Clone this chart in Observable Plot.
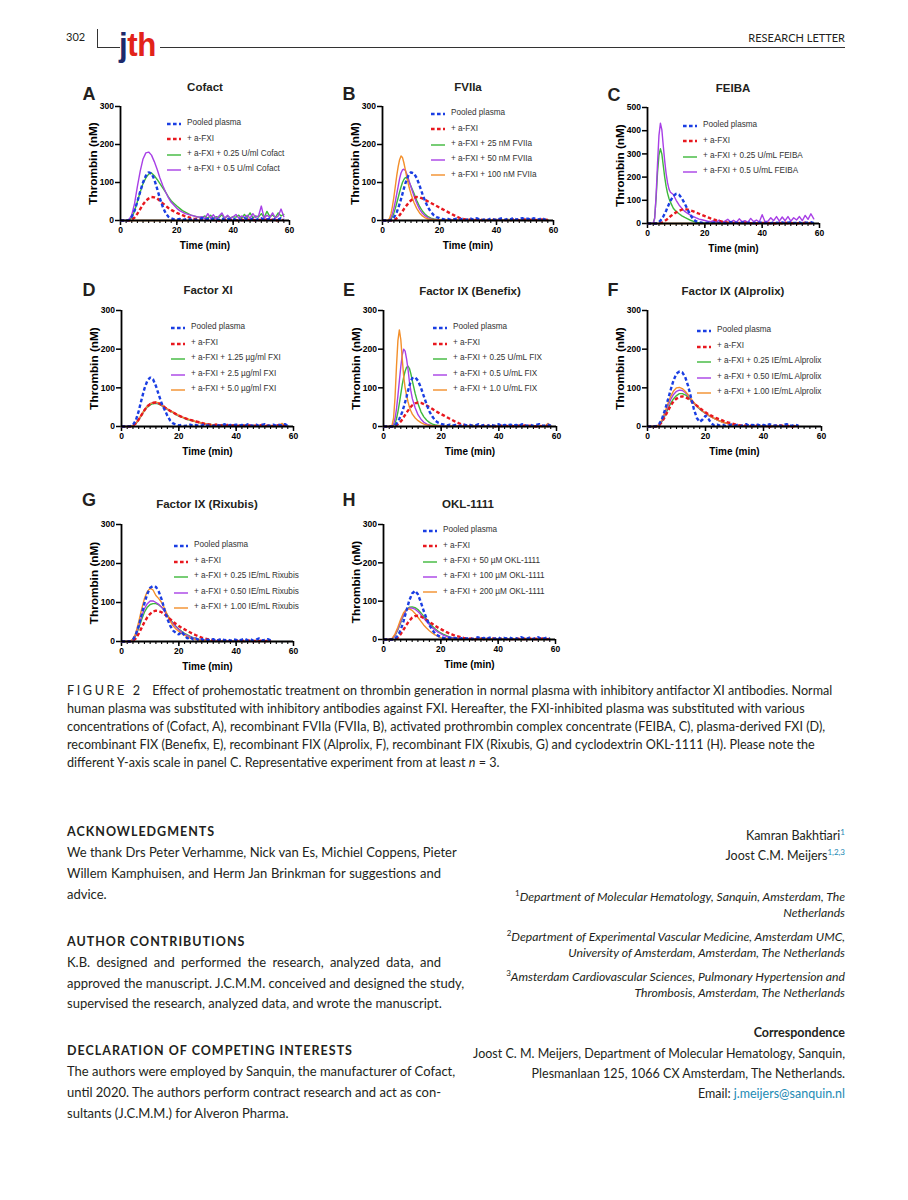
<!DOCTYPE html>
<html><head><meta charset="utf-8">
<script src="https://cdn.jsdelivr.net/npm/d3@7"></script>
<script src="https://cdn.jsdelivr.net/npm/@observablehq/plot@0.6"></script>
<style>
body{margin:0;background:#fff;}
#page{position:relative;width:908px;height:1200px;overflow:hidden;background:#fff;font-family:Lato,"Noto Sans",sans-serif;color:#231f20;}
.t{position:absolute;white-space:nowrap;line-height:20px;}
.cap{font-size:12.6px;}
.body{font-size:13px;width:374px;left:67px;}
.j{text-align:justify;text-align-last:justify;}
.h{font-weight:bold;font-size:12.5px;letter-spacing:1.0px;left:67px;}
.r{right:63px;text-align:right;font-size:12.5px;}
.i{font-style:italic;font-size:12.2px;}
.sup{color:#1d8ab4;font-size:8px;vertical-align:5px;}
.ch{position:absolute;white-space:nowrap;font-family:"Liberation Sans",Arial,sans-serif;line-height:1;}
</style></head><body><div id="page">
<div class="t" style="left:66px;top:27px;font-size:11px;">302</div>
<div style="position:absolute;left:97px;top:29px;width:1px;height:18px;background:#333;"></div>
<div style="position:absolute;left:97px;top:47px;width:23px;height:1px;background:#333;"></div>
<div style="position:absolute;left:160px;top:47px;width:685px;height:1px;background:#333;"></div>
<div class="ch" style="left:119px;top:27px;font-size:34px;font-weight:bold;letter-spacing:-0.5px;transform:scaleX(0.92);transform-origin:left top;"><span style="color:#1d2a6b">j</span><span style="color:#e2231a">th</span></div>
<div class="t" style="right:63px;top:28px;font-size:11px;">RESEARCH LETTER</div>

<div class="t cap" style="left:67px;top:681px;"><span style="letter-spacing:2.6px;">FIGURE 2</span>&nbsp;&nbsp; Effect of prohemostatic treatment on thrombin generation in normal plasma with inhibitory antifactor XI antibodies. Normal</div>
<div class="t cap" style="left:67px;top:699px;">human plasma was substituted with inhibitory antibodies against FXI. Hereafter, the FXI-inhibited plasma was substituted with various</div>
<div class="t cap" style="left:67px;top:717px;">concentrations of (Cofact, A), recombinant FVIIa (FVIIa, B), activated prothrombin complex concentrate (FEIBA, C), plasma-derived FXI (D),</div>
<div class="t cap" style="left:67px;top:735px;">recombinant FIX (Benefix, E), recombinant FIX (Alprolix, F), recombinant FIX (Rixubis, G) and cyclodextrin OKL-1111 (H). Please note the</div>
<div class="t cap" style="left:67px;top:753px;">different Y-axis scale in panel C. Representative experiment from at least <i>n</i> = 3.</div>

<div class="t h" style="top:822px;">ACKNOWLEDGMENTS</div>
<div class="t body j" style="top:842px;">We thank Drs Peter Verhamme, Nick van Es, Michiel Coppens, Pieter</div>
<div class="t body j" style="top:863px;">Willem Kamphuisen, and Herm Jan Brinkman for suggestions and</div>
<div class="t body" style="top:884px;">advice.</div>
<div class="t h" style="top:932px;">AUTHOR CONTRIBUTIONS</div>
<div class="t body j" style="top:952px;">K.B. designed and performed the research, analyzed data, and</div>
<div class="t body j" style="top:973px;">approved the manuscript. J.C.M.M. conceived and designed the study,</div>
<div class="t body" style="top:993px;">supervised the research, analyzed data, and wrote the manuscript.</div>
<div class="t h" style="top:1041px;">DECLARATION OF COMPETING INTERESTS</div>
<div class="t body j" style="top:1061px;">The authors were employed by Sanquin, the manufacturer of Cofact,</div>
<div class="t body j" style="top:1082px;">until 2020. The authors perform contract research and act as con-</div>
<div class="t body" style="top:1103px;">sultants (J.C.M.M.) for Alveron Pharma.</div>

<div class="t r" style="top:822px;">Kamran Bakhtiari<span class="sup">1</span></div>
<div class="t r" style="top:842px;">Joost C.M. Meijers<span class="sup">1,2,3</span></div>
<div class="t r i" style="top:883px;"><span class="sup" style="color:#231f20;font-style:normal">1</span>Department of Molecular Hematology, Sanquin, Amsterdam, The</div>
<div class="t r i" style="top:903px;">Netherlands</div>
<div class="t r i" style="top:923px;"><span class="sup" style="color:#231f20;font-style:normal">2</span>Department of Experimental Vascular Medicine, Amsterdam UMC,</div>
<div class="t r i" style="top:943px;">University of Amsterdam, Amsterdam, The Netherlands</div>
<div class="t r i" style="top:963px;"><span class="sup" style="color:#231f20;font-style:normal">3</span>Amsterdam Cardiovascular Sciences, Pulmonary Hypertension and</div>
<div class="t r i" style="top:983px;">Thrombosis, Amsterdam, The Netherlands</div>
<div class="t r" style="top:1023px;font-weight:bold;">Correspondence</div>
<div class="t r" style="top:1044px;">Joost C. M. Meijers, Department of Molecular Hematology, Sanquin,</div>
<div class="t r" style="top:1064px;">Plesmanlaan 125, 1066 CX Amsterdam, The Netherlands.</div>
<div class="t r" style="top:1084px;">Email: <span style="color:#1d8ab4">j.meijers@sanquin.nl</span></div>
</div>
<script>
// ---------------- DATA ----------------
const xTicks = [0, 20, 40, 60];
const yTicks300 = [0, 100, 200, 300];
const yTicks500 = [0, 100, 200, 300, 400, 500];

const time0to58 = [0,1,2,3,4,5,6,7,8,9,10,11,12,13,14,15,16,17,18,19,20,21,22,23,24,25,26,27,28,29,30,31,32,33,34,35,36,37,38,39,40,41,42,43,44,45,46,47,48,49,50,51,52,53,54,55,56,57,58];
const time0to52 = [0,1,2,3,4,5,6,7,8,9,10,11,12,13,14,15,16,17,18,19,20,21,22,23,24,25,26,27,28,29,30,31,32,33,34,35,36,37,38,39,40,41,42,43,44,45,46,47,48,49,50,51,52];
const timeHalfTo10 = [0,1,2,2.5,3,3.5,4,4.5,5,5.5,6,6.5,7,7.5,8,8.5,9,9.5,10,11,12,13,14,15,16,17,18,19,20,21,22,23,24,25,26,27,28,29,30,31,32,33,34,35,36,37,38,39,40,41,42,43,44,45,46,47,48,49,50,51,52,53,54,55,56,57,58];
const timeHalfTo8 = [0,1,2,2.5,3,3.5,4,4.5,5,5.5,6,6.5,7,7.5,8,9,10,11,12,13,14,15,16,17,18,19,20,21,22,23,24,25,26,27,28,29,30,31,32,33,34,35,36,37,38,39,40,41,42,43,44,45,46,47,48,49,50,51,52,53,54,55,56,57,58];

// Panel A: Cofact
const A_pooled = [0,0,0,1,10,26,50,76,100,118,127,124,108,84,58,36,20,10,6,3,2,4,1,3,5,2,4,1,3,6,2,4,1,5,3,2,6,1,4,3,5,2,4,1,6,3,2,5,1,4,6,2,3,5,1,4,3,6,2];
const A_aFXI = [0,0,0,0,2,8,18,30,42,52,58,62,61,58,52,45,39,33,28,24,20,17,14,11,9,7,5,4,3,2,2,1,3,1,2,0,2,1,3,1,2,1,0,2,1,3,1,2,0,1,2,1,3,1,2,0,1,2,1];
const A_cofact025 = [0,0,0,1,8,25,50,75,97,112,122,125,118,108,97,86,75,62,52,45,38,32,26,22,18,14,12,10,9,8,12,6,14,5,10,8,15,6,12,7,10,9,14,6,16,8,20,7,12,9,18,8,24,10,14,8,20,12,16];
const A_cofact05 = [0,0,0,2,15,45,90,130,162,178,180,172,155,135,112,92,75,60,48,40,32,26,22,18,16,14,12,10,9,10,5,18,6,15,4,12,20,6,14,5,10,16,6,12,8,14,6,18,8,12,38,6,14,8,20,6,12,30,10];
const A_baseTime = [3, 28];
const A_base = [0, 0];

// Panel B: FVIIa
const B_pooled = [0,0,0,0,1,3,8,14,22,32,44,56,70,84,97,108,117,124,127,124,112,92,70,50,34,22,14,9,6,4,2,4,1,3,5,2,4,1,3,5,2,6,3,1,4,2,5,3,1,4,6,2,5,3,7,2,4,6,3,5,2,6,4,3,7,2,5];
const B_aFXI = [0,0,0,0,0,0,2,3,6,9,14,19,24,30,35,40,45,49,53,59,62,61,58,54,50,46,42,38,34,30,26,22,18,14,10,7,5,3,2,3,1,2,3,1,2,1,3,2,1,2,3,1,2,1,3,2,1,2,3,1,2,3,1,2,3,1,2];
const B_fviia25 = [0,0,0,1,4,10,20,32,46,60,75,88,100,108,113,112,106,98,90,72,53,37,25,16,10,6,4,3,2,3,1,2,1,3,2,1,2,1,3,2,1,2,1,3,1,2,1,2,3,1,2,1,3,2,1,2,1,3,2,1,2,3,1,2,1,3,2];
const B_fviia50 = [0,0,0,2,8,18,32,50,70,90,110,125,133,135,132,123,112,100,88,66,46,30,19,12,7,4,3,2,2,1,2,1,3,1,2,1,2,1,3,1,2,1,2,1,3,1,2,1,2,3,1,2,1,2,1,3,1,2,1,2,1,3,1,2,1,2,1];
const B_fviia100 = [0,0,1,6,18,38,62,90,118,142,160,170,166,152,134,115,98,83,70,48,32,20,12,7,4,3,2,1,2,1,2,1,0,2,1,2,1,0,1,2,1,2,1,0,2,1,2,1,0,1,2,1,2,0,1,2,1,2,1,0,2,1,2,1,0,3,1];

// Panel C: FEIBA
const C_pooled = [0,0,0,0,0,2,6,12,20,30,42,55,70,84,98,118,128,124,108,85,60,36,18,9,5,3,2,4,1,3,5,2,4,1,3,6,2,4,1,5,3,2,6,1,4,3,5,2,4,1,6,3,2,5,1,4,6,2,3,5,1,4,3,6,2];
const C_aFXI = [0,0,0,0,0,0,1,2,4,7,11,15,20,25,31,40,48,55,60,62,60,56,52,47,42,37,32,27,22,18,14,11,8,6,4,3,2,1,2,1,3,2,1,2,0,1,2,3,1,2,1,0,2,1,3,1,2,1,0,2,1,3,1,2,1];
const C_feiba025 = [0,0,1,25,110,220,295,322,300,250,200,160,130,108,92,66,52,42,33,26,20,14,9,5,3,2,1,2,1,3,1,2,0,1,2,1,3,1,2,0,1,2,3,1,2,1,0,2,1,3,1,2,1,0,2,1,3,1,2,1,0,2,1,3,2];
const C_feiba05 = [0,0,2,20,120,260,380,432,405,335,270,215,175,148,135,125,100,80,65,52,44,36,30,24,19,16,13,10,8,12,6,15,5,10,18,6,14,5,20,8,12,5,22,8,15,6,38,8,10,25,12,30,10,28,12,30,10,25,15,30,12,35,18,42,20];
const C_baseTime = [2, 28];
const C_base = [0, 0];

// Panel D: Factor XI
const D_pooled = [0,0,0,1,4,16,40,70,98,118,127,122,105,82,60,44,28,15,8,5,3,4,1,3,5,2,4,1,3,6,2,4,1,5,3,2,6,1,4,3,5,2,4,1,6,3,2,5,1,4,6,2,3,5,1,4,3,6,2];
const D_aFXI = [0,0,0,0,2,8,18,30,42,52,58,61,62,60,56,50,45,40,36,32,28,25,22,19,17,15,13,11,9,7,6,4,3,5,2,3,1,4,2,3,1,2,4,1,3,2,1,3,2,4,1,2,3,1,2,4,1,3,2];
const D_fxi125 = [0,0,0,0,2,7,17,29,41,50,56,59,60,58,54,49,44,40,36,31,27,24,21,18,16,14,12,10,8,7,5,6,3,4,2,5,1,3,2,4,1,3,2,1,4,2,3,1,2,4,1,3,2,1,3,2,4,1,2];
const D_fxi25 = [0,0,0,0,2,8,18,30,43,53,59,62,62,60,55,50,45,41,37,32,28,25,22,19,17,15,12,11,9,7,6,5,4,3,5,2,3,1,4,2,3,2,1,3,2,4,1,2,3,1,2,3,1,2,4,1,3,2,1];
const D_fxi50 = [0,0,0,0,2,8,19,31,43,53,59,62,63,61,56,51,46,41,37,33,29,25,22,20,17,15,13,11,9,8,6,5,4,6,3,2,4,1,3,2,1,3,2,4,1,2,3,1,2,4,1,3,2,1,2,3,8,2,1];

// Panel E: Factor IX (Benefix)
const E_pooled = [0,0,0,0,0,1,3,7,13,20,28,38,50,63,77,92,106,118,125,127,118,100,78,56,38,25,15,10,7,5,3,5,2,4,1,3,5,2,4,1,3,6,2,4,1,5,3,2,6,1,4,3,5,2,4,1,6,3,2,5,1,4,6,2,3,5,2];
const E_aFXI = [0,0,0,0,0,0,1,3,6,9,13,18,24,30,36,41,46,51,55,60,62,61,58,54,50,45,40,36,32,28,24,20,16,12,9,6,4,3,2,3,1,2,1,3,2,1,2,0,1,2,3,1,2,1,0,2,1,3,1,2,1,0,2,1,3,1,2];
const E_fix025 = [0,0,0,0,0,2,8,20,38,60,84,108,128,143,153,156,150,136,118,85,58,38,25,16,10,6,4,3,2,1,2,1,3,1,2,0,1,2,1,3,1,2,1,0,2,1,2,1,3,1,2,1,0,2,1,3,1,2,1,0,2,1,3,1,2,1,2];
const E_fix05 = [0,0,0,0,1,6,20,45,80,118,155,185,200,195,175,148,115,92,72,48,30,19,11,6,4,2,2,1,2,1,0,2,1,1,2,0,1,2,1,0,1,2,1,1,0,2,1,1,2,0,1,2,1,0,1,2,1,0,1,2,1,0,2,1,1,0,2];
const E_fix10 = [0,0,0,0,4,22,75,155,222,250,225,175,130,100,80,64,50,40,32,22,15,10,6,4,3,2,1,2,1,0,1,2,1,0,2,1,1,2,0,1,2,1,0,1,2,1,0,2,1,0,1,2,1,0,1,2,1,0,2,1,0,1,2,1,0,8,2];

// Panel F: Factor IX (Alprolix)
const F_pooled = [0,0,0,1,6,20,42,68,95,120,137,142,140,128,105,75,45,22,12,18,28,20,8,3,5,2,4,1,3,5,2,4,1,3,6,2,4,3,5,2,4,1,6,3,2,5,1,4,6,2,3,5,2];
const F_aFXI = [0,0,0,0,3,12,25,40,54,65,72,76,78,76,72,66,60,54,48,42,37,32,28,24,21,18,15,12,10,8,6,4,3,2,3,1,2,1,3,2,1,2,0,1,2,1,3,1,2,1,0,2,1];
const F_alp025 = [0,0,0,0,3,13,28,45,60,72,80,85,85,82,76,68,60,52,45,39,34,29,25,21,17,14,11,9,7,5,4,3,2,2,1,1,2,1,0,1,2,1,0,1,2,1,0,1,2,1,0,1,2];
const F_alp050 = [0,0,0,0,4,15,32,52,70,83,91,94,93,88,80,70,61,53,46,40,34,29,25,21,17,14,11,9,7,5,4,3,2,2,1,1,1,2,1,0,1,2,1,0,2,1,1,0,2,1,0,1,2];
const F_alp100 = [0,0,0,0,5,18,37,58,78,92,100,101,98,91,82,72,62,54,47,40,35,30,25,21,17,14,11,9,7,5,4,3,2,2,1,1,1,0,2,1,1,0,2,1,0,1,2,1,0,1,1,2,1];

// Panel G: Factor IX (Rixubis)
const G_pooled = [0,0,0,0,5,18,40,68,98,122,138,142,140,128,108,82,58,40,28,22,18,25,15,8,12,5,8,3,6,2,5,3,6,2,4,7,3,5,2,6,4,2,5,7,3,6,2,5,8,3,4,6,3];
const G_aFXI = [0,0,0,0,2,8,20,35,50,62,71,77,79,78,75,70,64,57,51,45,40,35,31,27,23,19,16,13,10,8,6,4,3,2,4,1,3,2,1,2,3,1,2,1,3,2,1,2,1,3,1,2,1];
const G_rix025 = [0,0,0,0,4,15,34,56,75,88,95,97,97,94,88,79,68,57,47,39,32,26,21,17,13,10,8,6,4,3,2,2,1,0,2,1,0,1,2,1,0,1,2,0,1,2,1,0,1,2,1,0,1];
const G_rix050 = [0,0,0,0,5,18,40,64,84,97,104,104,100,95,88,78,66,55,45,37,30,24,19,15,12,9,7,5,4,3,2,1,1,2,1,0,1,2,1,0,2,1,1,0,2,1,0,1,2,1,0,1,1];
const G_rix100 = [0,0,0,1,6,22,50,82,110,128,137,132,118,110,100,85,68,52,40,32,26,20,16,12,9,7,5,4,3,2,2,1,2,1,0,1,2,1,0,1,2,1,0,1,2,1,1,0,2,1,0,1,2];

// Panel H: OKL-1111
const H_pooled = [0,0,0,0,2,10,25,48,75,102,120,127,118,98,75,55,38,25,16,10,6,4,3,5,2,4,1,3,5,2,4,1,3,6,2,4,1,5,3,2,6,1,4,3,5,2,4,1,6,3,2,5,1,4,6,2,3,5,2];
const H_aFXI = [0,0,0,0,1,5,14,26,38,49,57,61,62,60,56,51,46,41,36,31,27,23,19,16,13,10,8,6,4,3,2,3,1,2,3,1,2,1,3,2,1,2,3,1,2,1,3,2,1,2,1,3,1,2,1,2,3,1,2];
const H_okl50 = [0,0,0,2,10,25,44,63,77,84,85,83,78,70,61,52,43,35,28,22,17,13,10,7,5,4,3,2,1,2,1,0,2,1,3,1,0,2,1,2,1,0,2,1,3,1,2,1,0,2,1,3,1,2,0,1,2,1,3];
const H_okl100 = [0,0,0,2,11,27,47,65,77,82,82,79,73,65,56,47,39,31,25,19,15,11,8,6,4,3,2,2,1,1,2,0,1,2,1,0,1,2,1,0,2,1,1,0,2,1,0,1,2,1,0,1,2,1,0,2,1,1,0];
const H_okl200 = [0,0,0,3,14,32,53,70,79,80,76,68,58,48,38,30,23,17,12,8,5,4,3,2,1,2,1,0,1,2,1,0,1,1,2,0,1,2,1,0,1,2,1,1,0,2,1,0,1,2,1,0,1,2,1,0,1,2,1];

// ---------------- STYLE / LAYOUT ----------------
const BLUE = "#1a3ee3", RED = "#e8181f", GREEN = "#3db83a", PURPLE = "#a83fe6", ORANGE = "#f38f2a";
const S = (name, values, color, dash) => ({name, values, color, dash: !!dash});

const panels = [
  {letter: "A", title: "Cofact", box: [120, 106, 289, 220], ymax: 300, yTicks: yTicks300, time: time0to58,
   series: [S("Pooled plasma", A_pooled, BLUE, 1), S("+ a-FXI", A_aFXI, RED, 1), S("+ a-FXI + 0.25 U/ml Cofact", A_cofact025, GREEN), S("+ a-FXI + 0.5 U/ml Cofact", A_cofact05, PURPLE)],
   base: [A_baseTime, A_base], legend: [47, 18, 15.3], letterPos: [89, 94], titlePos: [205, 88]},
  {letter: "B", title: "FVIIa", box: [382, 106, 553, 220], ymax: 300, yTicks: yTicks300, time: timeHalfTo10,
   series: [S("Pooled plasma", B_pooled, BLUE, 1), S("+ a-FXI", B_aFXI, RED, 1), S("+ a-FXI + 25 nM FVIIa", B_fviia25, GREEN), S("+ a-FXI + 50 nM FVIIa", B_fviia50, PURPLE), S("+ a-FXI + 100 nM FVIIa", B_fviia100, ORANGE)],
   legend: [49, 8, 15.3], letterPos: [349, 94], titlePos: [468, 88]},
  {letter: "C", title: "FEIBA", box: [647, 107, 819, 223], ymax: 500, yTicks: yTicks500, time: timeHalfTo8,
   series: [S("Pooled plasma", C_pooled, BLUE, 1), S("+ a-FXI", C_aFXI, RED, 1), S("+ a-FXI + 0.25 U/mL FEIBA", C_feiba025, GREEN), S("+ a-FXI + 0.5 U/mL FEIBA", C_feiba05, PURPLE)],
   base: [C_baseTime, C_base], legend: [36, 19, 15.3], letterPos: [614, 95], titlePos: [733, 89]},
  {letter: "D", title: "Factor XI", box: [121, 310, 293, 426], ymax: 300, yTicks: yTicks300, time: time0to58,
   series: [S("Pooled plasma", D_pooled, BLUE, 1), S("+ a-FXI", D_aFXI, RED, 1), S("+ a-FXI + 1.25 µg/ml FXI", D_fxi125, GREEN), S("+ a-FXI + 2.5 µg/ml FXI", D_fxi25, PURPLE), S("+ a-FXI + 5.0 µg/ml FXI", D_fxi50, ORANGE)],
   legend: [50, 18, 15.5], letterPos: [89, 290], titlePos: [208, 291]},
  {letter: "E", title: "Factor IX (Benefix)", box: [383, 310, 556, 426], ymax: 300, yTicks: yTicks300, time: timeHalfTo10,
   series: [S("Pooled plasma", E_pooled, BLUE, 1), S("+ a-FXI", E_aFXI, RED, 1), S("+ a-FXI + 0.25 U/mL FIX", E_fix025, GREEN), S("+ a-FXI + 0.5 U/mL FIX", E_fix05, PURPLE), S("+ a-FXI + 1.0 U/mL FIX", E_fix10, ORANGE)],
   legend: [50, 18, 15.5], letterPos: [349, 290], titlePos: [470, 292]},
  {letter: "F", title: "Factor IX (Alprolix)", box: [647, 310, 821, 426], ymax: 300, yTicks: yTicks300, time: time0to52,
   series: [S("Pooled plasma", F_pooled, BLUE, 1), S("+ a-FXI", F_aFXI, RED, 1), S("+ a-FXI + 0.25 IE/mL Alprolix", F_alp025, GREEN), S("+ a-FXI + 0.50 IE/mL Alprolix", F_alp050, PURPLE), S("+ a-FXI + 1.00 IE/mL Alprolix", F_alp100, ORANGE)],
   legend: [50, 21, 15.5], letterPos: [613, 290], titlePos: [733, 292]},
  {letter: "G", title: "Factor IX (Rixubis)", box: [121, 524, 293, 641], ymax: 300, yTicks: yTicks300, time: time0to52,
   series: [S("Pooled plasma", G_pooled, BLUE, 1), S("+ a-FXI", G_aFXI, RED, 1), S("+ a-FXI + 0.25 IE/mL Rixubis", G_rix025, GREEN), S("+ a-FXI + 0.50 IE/mL Rixubis", G_rix050, PURPLE), S("+ a-FXI + 1.00 IE/mL Rixubis", G_rix100, ORANGE)],
   legend: [53, 22, 15.5], letterPos: [89, 500], titlePos: [207, 505]},
  {letter: "H", title: "OKL-1111", box: [383, 524, 555, 639], ymax: 300, yTicks: yTicks300, time: time0to58,
   series: [S("Pooled plasma", H_pooled, BLUE, 1), S("+ a-FXI", H_aFXI, RED, 1), S("+ a-FXI + 50 µM OKL-1111", H_okl50, GREEN), S("+ a-FXI + 100 µM OKL-1111", H_okl100, PURPLE), S("+ a-FXI + 200 µM OKL-1111", H_okl200, ORANGE)],
   legend: [40, 7, 15.3], letterPos: [349, 500], titlePos: [468, 505]}
];

const page = document.getElementById("page");
function add(style, html) {
  const e = document.createElement("div");
  e.className = "ch";
  Object.assign(e.style, style);
  e.innerHTML = html;
  page.appendChild(e);
  return e;
}
const rowsOf = (tt, vv) => vv.map((v, i) => ({t: tt[i], v})).filter(d => d.t !== undefined);
const DASH = "3.6,2.4";
const DW = 2.4, SW = 1.4;

for (const p of panels) {
  const [x0, y0, x1, y1] = p.box;
  const mL = 50, mR = 15, mT = 10, mB = 36;
  const lineMarks = [];
  if (p.base) lineMarks.push(Plot.line(rowsOf(p.base[0], p.base[1]), {x: "t", y: "v", stroke: ORANGE, strokeWidth: SW}));
  const solids = p.series.filter(s => !s.dash);
  const dashed = p.series.filter(s => s.dash).reverse();
  for (const s of solids) lineMarks.push(Plot.line(rowsOf(p.time, s.values), {x: "t", y: "v", stroke: s.color, strokeWidth: SW}));
  for (const s of dashed) lineMarks.push(Plot.line(rowsOf(p.time, s.values), {x: "t", y: "v", stroke: s.color, strokeWidth: DW, strokeDasharray: DASH, strokeLinecap: "butt", strokeLinejoin: "miter"}));

  const svg = Plot.plot({
    width: x1 - x0 + mL + mR,
    height: y1 - y0 + mT + mB,
    marginLeft: mL, marginRight: mR, marginTop: mT, marginBottom: mB,
    x: {domain: [0, 60]},
    y: {domain: [0, p.ymax]},
    style: {fontFamily: "'Liberation Sans', Arial, sans-serif", background: "transparent", overflow: "visible", color: "#000"},
    marks: [
      Plot.axisX({ticks: d3.range(0, 61, 2), tickSize: 3, tickFormat: () => "", strokeWidth: 1.1, label: null}),
      Plot.axisX({ticks: xTicks, tickSize: 5, tickPadding: 1.5, fontSize: 8.5, fontWeight: "bold", strokeWidth: 1.5, label: null}),
      Plot.axisY({ticks: p.yTicks, tickSize: 5, tickPadding: 1.5, fontSize: 8.5, fontWeight: "bold", strokeWidth: 1.5, label: null}),
      ...lineMarks,
      Plot.ruleY([0], {stroke: "#000", strokeWidth: 1.8}),
      Plot.ruleX([0], {stroke: "#000", strokeWidth: 1.8}),
      Plot.text(["Thrombin (nM)"], {text: d => d, frameAnchor: "left", textAnchor: "middle", lineAnchor: "middle", rotate: -90, dx: -27, fontSize: 11.8, fontWeight: "bold", fill: "#000"}),
      Plot.text(["Time (min)"], {text: d => d, frameAnchor: "bottom", textAnchor: "middle", lineAnchor: "middle", dy: 25, fontSize: 10, fontWeight: "bold", fill: "#000"})
    ]
  });
  const wrap = document.createElement("div");
  Object.assign(wrap.style, {position: "absolute", left: (x0 - mL) + "px", top: (y0 - mT) + "px"});
  wrap.appendChild(svg);
  page.appendChild(wrap);

  add({left: p.letterPos[0] + "px", top: p.letterPos[1] + "px", transform: "translate(-50%,-50%)", fontSize: "18px", fontWeight: "bold"}, p.letter);
  add({left: p.titlePos[0] + "px", top: p.titlePos[1] + "px", transform: "translate(-50%,-50%)", fontSize: "11.5px", fontWeight: "bold"}, p.title);

  const [lx, ly, ldy] = p.legend;
  p.series.forEach((s, i) => {
    const yc = y0 + ly + i * ldy;
    const dash = s.dash ? `stroke-dasharray="${DASH}"` : "";
    const sw = s.dash ? DW : SW;
    add({left: (x0 + lx) + "px", top: (yc - 3) + "px"},
      `<svg width="14" height="6" style="display:block"><line x1="0" x2="14" y1="3" y2="3" stroke="${s.color}" stroke-width="${sw}" ${dash}/></svg>`);
    add({left: (x0 + lx + 20) + "px", top: (yc - 4.6) + "px", fontSize: "8.2px", color: "#333"}, s.name);
  });
}
</script>
</body></html>
